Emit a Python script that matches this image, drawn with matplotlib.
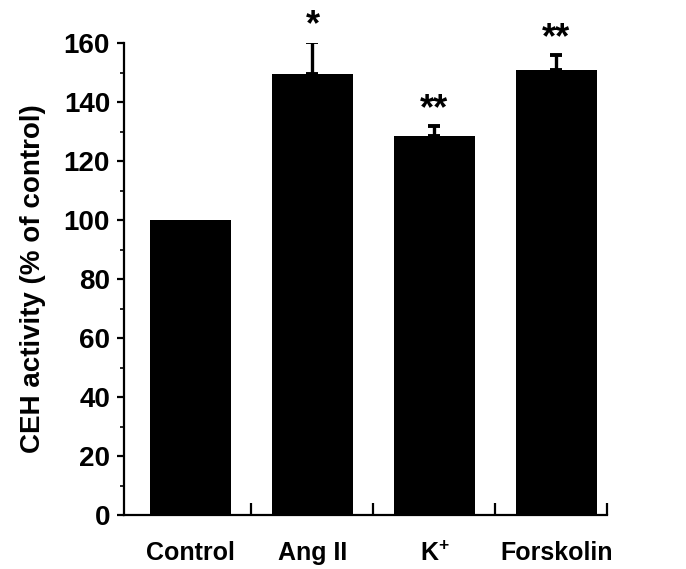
import matplotlib
matplotlib.use("Agg")
import matplotlib.pyplot as plt
import numpy as np

categories = ["Control", "Ang II", r"K$^{+}$", "Forskolin"]
values = [100, 149.5, 128.5, 151]
errors = [0, 11, 3.3, 5]
stars = ["", "*", "**", "**"]

plt.rcParams['font.family'] = ['Liberation Sans', 'DejaVu Sans']
plt.rcParams['font.weight'] = 'bold'
plt.rcParams['mathtext.fontset'] = 'custom'
plt.rcParams['mathtext.rm'] = 'Liberation Sans:bold'
plt.rcParams['mathtext.it'] = 'Liberation Sans:bold'
plt.rcParams['mathtext.bf'] = 'Liberation Sans:bold'
plt.rcParams['mathtext.default'] = 'bf'

fig = plt.figure(figsize=(6.86, 5.69), dpi=100)
ax = fig.add_axes([124/686, 1-515/569, (607-124)/686, (515-43)/569])

x = np.arange(len(categories))
ax.bar(x, values, width=0.66, color='black', zorder=2)
for xi, v, e in zip(x, values, errors):
    if e > 0:
        ax.errorbar(xi, v, yerr=[[0], [e]], fmt='none', ecolor='black',
                    elinewidth=2.4, capsize=4.5, capthick=2.8, zorder=3)
for xi, v, e, s in zip(x, values, errors, stars):
    if s:
        ax.text(xi, v + e - 0.5, s, ha='center', va='bottom', fontsize=26,
                fontweight='bold', clip_on=False)

ax.set_xlim(-0.545, 3.414)
ax.set_ylim(0, 160)
ax.spines['top'].set_visible(False)
ax.spines['right'].set_visible(False)
ax.spines['left'].set_linewidth(1.6)
ax.spines['bottom'].set_linewidth(1.6)

ax.set_yticks(np.arange(0, 161, 20))
ax.set_yticks(np.arange(0, 161, 10), minor=True)
ax.tick_params(axis='y', which='major', direction='out', length=5, width=1.6,
               labelsize=20, pad=5)
ax.tick_params(axis='y', which='minor', direction='out', length=3, width=1.2)

ax.set_xticks([0.5, 1.5, 2.5, 3.414])
ax.set_xticklabels([])
ax.set_xticks(x, minor=True)
ax.set_xticklabels(categories, minor=True)
ax.tick_params(axis='x', which='major', direction='in', length=9, width=1.6)
ax.tick_params(axis='x', which='minor', length=0, labelsize=18, pad=19)

ax.set_ylabel("CEH activity (% of control)", fontsize=20, fontweight='bold', labelpad=13)

fig.savefig("out.png", dpi=100)
